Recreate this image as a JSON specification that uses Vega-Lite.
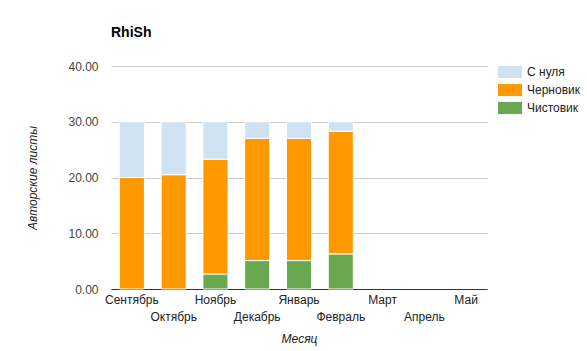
{
  "$schema": "https://vega.github.io/schema/vega-lite/v6.json",
  "autosize": {"type": "none"},
  "width": 376,
  "height": 223,
  "padding": {"left": 111, "top": 66, "right": 100, "bottom": 62},
  "background": "#ffffff",
  "title": {"text": "RhiSh", "anchor": "start", "frame": "group", "offset": 20, "fontSize": 14, "font": "Liberation Sans", "fontWeight": "bold", "color": "#000000"},
  "config": {
    "font": "Liberation Sans",
    "view": {"stroke": null}
  },
  "data": {"values": [
    {"month": "Сентябрь", "series": "Черновик", "value": 20, "ord": 2},
    {"month": "Сентябрь", "series": "С нуля", "value": 10, "ord": 3},
    {"month": "Октябрь", "series": "Черновик", "value": 20.5, "ord": 2},
    {"month": "Октябрь", "series": "С нуля", "value": 9.5, "ord": 3},
    {"month": "Ноябрь", "series": "Чистовик", "value": 2.7, "ord": 1},
    {"month": "Ноябрь", "series": "Черновик", "value": 20.6, "ord": 2},
    {"month": "Ноябрь", "series": "С нуля", "value": 6.7, "ord": 3},
    {"month": "Декабрь", "series": "Чистовик", "value": 5.1, "ord": 1},
    {"month": "Декабрь", "series": "Черновик", "value": 21.95, "ord": 2},
    {"month": "Декабрь", "series": "С нуля", "value": 2.95, "ord": 3},
    {"month": "Январь", "series": "Чистовик", "value": 5.1, "ord": 1},
    {"month": "Январь", "series": "Черновик", "value": 21.95, "ord": 2},
    {"month": "Январь", "series": "С нуля", "value": 2.95, "ord": 3},
    {"month": "Февраль", "series": "Чистовик", "value": 6.3, "ord": 1},
    {"month": "Февраль", "series": "Черновик", "value": 22.0, "ord": 2},
    {"month": "Февраль", "series": "С нуля", "value": 1.7, "ord": 3}
  ]},
  "mark": {"type": "bar", "stroke": "#ffffff", "strokeWidth": 1},
  "encoding": {
    "x": {
      "field": "month", "type": "nominal", "sort": null,
      "scale": {"domain": ["Сентябрь", "Октябрь", "Ноябрь", "Декабрь", "Январь", "Февраль", "Март", "Апрель", "Май"], "paddingInner": 0.4, "paddingOuter": 0.2},
      "axis": {
        "title": "Месяц", "titleFont": "Liberation Sans", "titleFontStyle": "italic", "titleFontWeight": "normal", "titleFontSize": 12, "titleColor": "#222222", "titlePadding": 11,
        "labelAngle": 0, "labelFontSize": 12, "labelColor": "#222222", "labelFont": "Liberation Sans",
        "labelPadding": {"expr": "indexof(['Сентябрь','Октябрь','Ноябрь','Декабрь','Январь','Февраль','Март','Апрель','Май'], datum.value) % 2 ? 22 : 5"},
        "ticks": false, "domainColor": "#333333", "domainWidth": 1, "labelOverlap": false, "labelBound": false
      }
    },
    "y": {
      "field": "value", "type": "quantitative", "stack": "zero",
      "scale": {"domain": [0, 40]},
      "axis": {
        "title": "Авторские листы", "titleFont": "Liberation Sans", "titleFontStyle": "italic", "titleFontWeight": "normal", "titleFontSize": 12, "titleColor": "#222222",
        "titleX": -72,
        "values": [0, 10, 20, 30, 40], "format": ".2f", "labelFontSize": 12, "labelColor": "#444444", "labelPadding": 13,
        "ticks": false, "domain": false, "gridColor": "#cccccc", "gridWidth": 1
      }
    },
    "color": {
      "field": "series", "type": "nominal",
      "scale": {"domain": ["С нуля", "Черновик", "Чистовик"], "range": ["#cfe2f3", "#ff9900", "#6aa84f"]},
      "legend": {
        "title": null, "orient": "none", "legendX": 387, "legendY": -6,
        "symbolType": "M-1,-0.5H1V0.5H-1Z", "symbolSize": 576, "symbolStrokeWidth": 0, "symbolOpacity": 1,
        "labelFontSize": 12, "labelColor": "#222222", "labelOffset": 5, "rowPadding": -6
      }
    },
    "order": {"field": "ord", "type": "quantitative"}
  }
}
